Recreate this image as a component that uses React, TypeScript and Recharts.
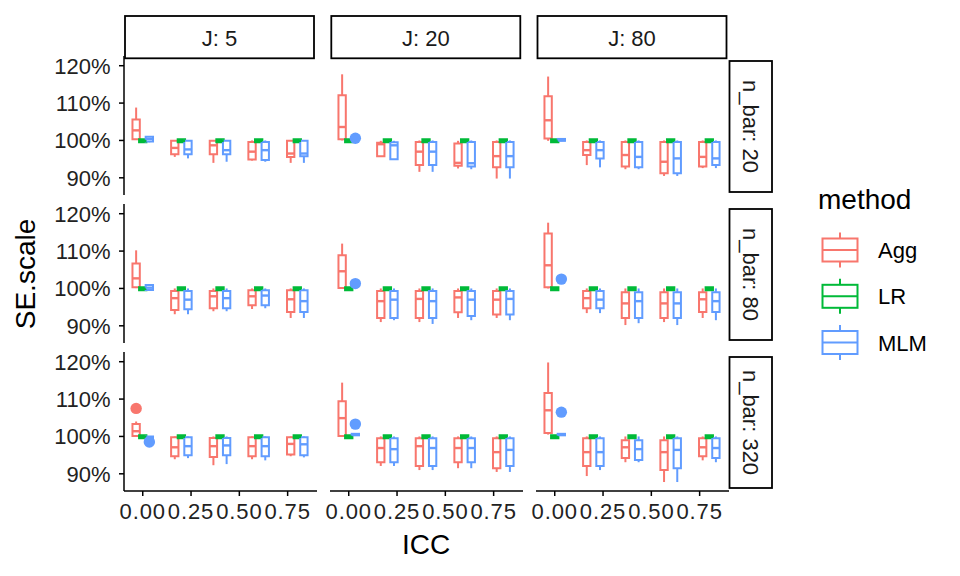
import React from 'react';
import { ComposedChart, XAxis, YAxis, ReferenceArea, ReferenceLine, Scatter } from 'recharts';

type Box = [number, number, number, number, number]; // lower whisker, q1, median, q3, upper whisker (%)

const J_LEVELS = ['5', '20', '80'];
const NBAR_LEVELS = ['20', '80', '320'];
const ICC_VALUES = [0, 0.2, 0.4, 0.6, 0.8];
const METHODS = ['Agg', 'LR', 'MLM'];
const METHOD_COLORS = ['#F8766D', '#00BA38', '#619CFF'];
const X_TICKS = [0, 0.25, 0.5, 0.75];
const Y_TICKS = [90, 100, 110, 120];

// LR is flat at 100% in every panel
const lr_all: Box[] = [
  [99.5, 99.5, 99.9, 100.3, 100.3],
  [99.5, 99.5, 99.9, 100.3, 100.3],
  [99.5, 99.5, 99.9, 100.3, 100.3],
  [99.5, 99.5, 99.9, 100.3, 100.3],
  [99.5, 99.5, 99.9, 100.3, 100.3],
];

// n_bar: 20
const agg_J5_n20: Box[] = [
  [100.2, 100.3, 102.7, 105.6, 108.8],
  [95.6, 96.3, 98.0, 99.9, 100.1],
  [94.0, 96.3, 98.7, 99.9, 100.1],
  [94.6, 94.9, 97.0, 99.6, 100.0],
  [94.0, 95.6, 96.5, 99.9, 100.1],
];
const mlm_J5_n20: Box[] = [
  [99.5, 99.7, 100.4, 101.0, 101.1],
  [95.2, 96.3, 97.6, 99.9, 100.1],
  [94.3, 96.3, 97.4, 99.9, 100.1],
  [94.3, 94.8, 97.4, 99.6, 100.0],
  [94.0, 95.8, 96.5, 99.9, 100.1],
];
const agg_J20_n20: Box[] = [
  [100.0, 100.3, 103.6, 112.1, 117.7],
  [95.8, 95.8, 99.0, 99.4, 99.9],
  [91.6, 93.4, 97.0, 99.6, 100.0],
  [92.5, 93.2, 94.0, 99.2, 99.9],
  [89.8, 92.8, 95.8, 99.6, 100.0],
];
const mlm_J20_n20: Box[] = [
  [100.3, 100.35, 100.45, 100.55, 100.6],
  [95.0, 95.0, 98.7, 99.5, 99.9],
  [91.6, 93.4, 97.0, 99.6, 100.0],
  [92.3, 93.0, 93.9, 99.6, 100.0],
  [89.8, 92.8, 95.8, 99.6, 100.0],
];
const agg_J80_n20: Box[] = [
  [99.9, 100.5, 105.4, 111.8, 117.1],
  [93.4, 96.1, 97.4, 99.6, 100.0],
  [92.3, 93.0, 96.1, 99.6, 100.0],
  [90.5, 91.2, 94.3, 99.6, 100.0],
  [92.6, 93.0, 95.6, 99.6, 100.0],
];
const mlm_J80_n20: Box[] = [
  [99.8, 99.9, 100.1, 100.4, 100.5],
  [92.8, 95.2, 97.4, 99.6, 100.0],
  [92.3, 92.8, 95.6, 99.6, 100.0],
  [90.5, 91.2, 95.2, 99.6, 100.0],
  [92.6, 93.4, 95.2, 99.6, 100.0],
];

// n_bar: 80
const agg_J5_n80: Box[] = [
  [100.1, 100.3, 102.7, 106.7, 110.2],
  [93.1, 94.2, 97.4, 99.3, 100.0],
  [93.9, 94.7, 97.9, 99.3, 100.0],
  [94.5, 95.5, 97.9, 99.5, 100.0],
  [92.1, 93.7, 97.1, 99.5, 100.0],
];
const mlm_J5_n80: Box[] = [
  [99.5, 99.6, 100.2, 100.9, 101.0],
  [93.1, 94.4, 97.0, 99.3, 100.0],
  [93.9, 94.7, 97.4, 99.3, 100.0],
  [94.7, 95.5, 98.1, 99.5, 100.0],
  [92.1, 93.7, 96.6, 99.5, 100.0],
];
const agg_J20_n80: Box[] = [
  [100.0, 100.1, 104.6, 108.9, 112.0],
  [91.0, 92.1, 96.6, 99.3, 100.0],
  [91.0, 92.1, 97.2, 99.3, 100.0],
  [92.1, 93.6, 97.6, 99.3, 100.0],
  [92.1, 93.0, 97.0, 99.3, 100.0],
];
const mlm_J20_n80: Box[] = [
  [100.7, 100.8, 101.0, 101.2, 101.3],
  [91.5, 92.1, 97.0, 99.3, 100.0],
  [90.5, 92.1, 96.6, 99.3, 100.0],
  [91.5, 92.6, 97.0, 99.3, 100.0],
  [91.5, 93.0, 97.2, 99.3, 100.0],
];
const agg_J80_n80: Box[] = [
  [100.0, 100.3, 106.2, 114.7, 117.6],
  [93.4, 94.7, 97.4, 99.3, 100.0],
  [90.2, 92.1, 96.0, 99.0, 100.0],
  [91.0, 92.1, 96.0, 99.0, 100.0],
  [92.1, 93.7, 97.1, 99.0, 100.0],
];
const mlm_J80_n80: Box[] = [
  [101.9, 102.0, 102.2, 102.4, 102.5],
  [93.4, 94.7, 97.0, 99.3, 100.0],
  [90.7, 92.1, 96.6, 99.0, 100.0],
  [90.2, 92.1, 96.0, 99.0, 100.0],
  [91.5, 93.7, 96.6, 99.0, 100.0],
];

// n_bar: 320
const agg_J5_n320: Box[] = [
  [100.0, 100.1, 101.4, 103.3, 104.0],
  [93.9, 94.7, 97.1, 99.8, 100.0],
  [92.3, 94.5, 97.4, 99.6, 100.0],
  [93.9, 94.7, 97.4, 99.8, 100.0],
  [94.7, 95.2, 98.0, 99.8, 100.0],
];
const mlm_J5_n320: Box[] = [
  [99.0, 99.1, 99.5, 100.0, 100.1],
  [94.2, 95.0, 97.4, 99.8, 100.0],
  [92.6, 95.0, 97.6, 99.6, 100.0],
  [93.6, 94.7, 97.4, 99.8, 100.0],
  [94.4, 95.0, 97.9, 99.8, 100.0],
];
const agg_J20_n320: Box[] = [
  [100.0, 100.1, 104.9, 109.4, 114.4],
  [92.1, 93.1, 96.9, 99.5, 100.0],
  [91.0, 92.1, 97.4, 99.5, 100.0],
  [91.5, 93.1, 96.9, 99.5, 100.0],
  [90.5, 91.5, 95.8, 99.5, 100.0],
];
const mlm_J20_n320: Box[] = [
  [100.2, 100.3, 100.5, 100.7, 100.8],
  [92.1, 93.1, 96.6, 99.5, 100.0],
  [91.0, 92.1, 96.9, 99.5, 100.0],
  [91.5, 93.1, 96.9, 99.5, 100.0],
  [90.5, 92.1, 96.4, 99.5, 100.0],
];
const agg_J80_n320: Box[] = [
  [100.5, 100.9, 107.0, 111.6, 119.8],
  [89.4, 92.1, 95.8, 99.5, 100.0],
  [93.1, 94.2, 97.1, 99.0, 100.0],
  [87.8, 91.0, 95.8, 99.0, 100.0],
  [93.6, 94.7, 97.1, 99.5, 100.0],
];
const mlm_J80_n320: Box[] = [
  [100.2, 100.3, 100.5, 100.7, 100.8],
  [91.0, 92.1, 95.8, 99.5, 100.0],
  [93.1, 93.7, 96.6, 99.0, 100.0],
  [87.8, 91.5, 96.4, 99.5, 100.0],
  [93.1, 94.2, 96.9, 99.5, 100.0],
];

const OUTLIERS = [
  { j: '20', n: '20', method: 'MLM', icc: 0, value: 100.6 },
  { j: '20', n: '80', method: 'MLM', icc: 0, value: 101.3 },
  { j: '80', n: '80', method: 'MLM', icc: 0, value: 102.5 },
  { j: '5', n: '320', method: 'Agg', icc: 0, value: 107.5 },
  { j: '5', n: '320', method: 'MLM', icc: 0, value: 98.5 },
  { j: '20', n: '320', method: 'MLM', icc: 0, value: 103.3 },
  { j: '80', n: '320', method: 'MLM', icc: 0, value: 106.5 },
];

// table of panels built from the arrays above: [row][col]
const PANELS: { agg: Box[]; lr: Box[]; mlm: Box[] }[][] = [
  [
    { agg: agg_J5_n20, lr: lr_all, mlm: mlm_J5_n20 },
    { agg: agg_J20_n20, lr: lr_all, mlm: mlm_J20_n20 },
    { agg: agg_J80_n20, lr: lr_all, mlm: mlm_J80_n20 },
  ],
  [
    { agg: agg_J5_n80, lr: lr_all, mlm: mlm_J5_n80 },
    { agg: agg_J20_n80, lr: lr_all, mlm: mlm_J20_n80 },
    { agg: agg_J80_n80, lr: lr_all, mlm: mlm_J80_n80 },
  ],
  [
    { agg: agg_J5_n320, lr: lr_all, mlm: mlm_J5_n320 },
    { agg: agg_J20_n320, lr: lr_all, mlm: mlm_J20_n320 },
    { agg: agg_J80_n320, lr: lr_all, mlm: mlm_J80_n320 },
  ],
];

// ---- layout / style ----
const FONT = '"Liberation Sans", Arial, Helvetica, sans-serif';
const PANEL_W = 193;
const PANEL_H = 139;
const COL_X = [123.5, 329.8, 536];
const ROW_Y = [55.5, 203.5, 351.5];
const Y_AXIS_W = 80;
const X_AXIS_H = 50;
const PAD_TOP = 14;
const PAD_SIDE = 14;
const X_DOMAIN: [number, number] = [-0.097, 0.902];
const Y_DOMAIN: [number, number] = [85.4, 122.6];
const DODGE = 0.0342;
const HALF_W = 0.019;
const BOX_SW = 2;
const MED_SW = 2.4;

function boxElements(boxes: Box[], mIdx: number, prefix: string) {
  const color = METHOD_COLORS[mIdx];
  const off = (mIdx - 1) * DODGE;
  const out: React.ReactElement[] = [];
  boxes.forEach((b, i) => {
    const cx = ICC_VALUES[i] + off;
    const [lo, q1, med, q3, hi] = b;
    const k = `${prefix}-${mIdx}-${i}`;
    out.push(
      <ReferenceLine
        key={`${k}-wu`}
        segment={[{ x: cx, y: q3 }, { x: cx, y: hi }]}
        stroke={color}
        strokeWidth={BOX_SW}
        ifOverflow="visible"
      />
    );
    out.push(
      <ReferenceLine
        key={`${k}-wl`}
        segment={[{ x: cx, y: lo }, { x: cx, y: q1 }]}
        stroke={color}
        strokeWidth={BOX_SW}
        ifOverflow="visible"
      />
    );
    out.push(
      <ReferenceArea
        key={`${k}-box`}
        x1={cx - HALF_W}
        x2={cx + HALF_W}
        y1={q1}
        y2={q3}
        fill="#ffffff"
        fillOpacity={1}
        stroke={color}
        strokeWidth={BOX_SW}
        ifOverflow="visible"
      />
    );
    out.push(
      <ReferenceLine
        key={`${k}-med`}
        segment={[{ x: cx - HALF_W, y: med }, { x: cx + HALF_W, y: med }]}
        stroke={color}
        strokeWidth={MED_SW}
        ifOverflow="visible"
      />
    );
  });
  return out;
}

function Panel({ row, col }: { row: number; col: number }) {
  const showY = col === 0;
  const showX = row === 2;
  const yw = showY ? Y_AXIS_W : 0;
  const padL = showY ? 0 : PAD_SIDE;
  const xh = showX ? X_AXIS_H : 0;
  const p = PANELS[row][col];
  const j = J_LEVELS[col];
  const n = NBAR_LEVELS[row];
  const tickStyle = { fontSize: 22, fill: '#222222', fontFamily: FONT };
  const xTickStyle = { ...tickStyle, letterSpacing: 0.9 };
  return (
    <div style={{ position: 'absolute', left: COL_X[col] - yw - padL, top: ROW_Y[row] - PAD_TOP }}>
      <ComposedChart
        width={PANEL_W + yw + padL + PAD_SIDE}
        height={PANEL_H + xh + PAD_TOP}
        margin={{ top: PAD_TOP, right: PAD_SIDE, bottom: 0, left: padL }}
        style={{ overflow: 'visible' }}
      >
        <XAxis
          type="number"
          dataKey="x"
          domain={X_DOMAIN}
          allowDataOverflow
          ticks={X_TICKS}
          interval={0}
          hide={!showX}
          height={xh}
          tickFormatter={(v: number) => v.toFixed(2)}
          axisLine={{ stroke: '#000000', strokeWidth: 1.5 }}
          tickLine={{ stroke: '#000000', strokeWidth: 1.5 }}
          tickSize={5}
          tickMargin={7.5}
          tick={xTickStyle}
        />
        <YAxis
          type="number"
          dataKey="y"
          domain={Y_DOMAIN}
          allowDataOverflow
          ticks={Y_TICKS}
          interval={0}
          hide={!showY}
          width={yw}
          tickFormatter={(v: number) => `${v}%`}
          axisLine={{ stroke: '#000000', strokeWidth: 1.5 }}
          tickLine={{ stroke: '#000000', strokeWidth: 1.5 }}
          tickSize={5}
          tickMargin={8.5}
          tick={tickStyle}
        />
        {boxElements(p.agg, 0, `r${row}c${col}`)}
        {boxElements(p.lr, 1, `r${row}c${col}`)}
        {boxElements(p.mlm, 2, `r${row}c${col}`)}
        {METHODS.map((m, mIdx) => {
          const pts = OUTLIERS.filter((o) => o.j === j && o.n === n && o.method === m).map((o) => ({
            x: o.icc + (mIdx - 1) * DODGE,
            y: o.value,
          }));
          return (
            <Scatter
              key={`out-${m}`}
              data={pts}
              fill={METHOD_COLORS[mIdx]}
              isAnimationActive={false}
              shape={(props: any) => (
                <circle cx={props.cx} cy={props.cy} r={5.7} fill={METHOD_COLORS[mIdx]} />
              )}
            />
          );
        })}
      </ComposedChart>
    </div>
  );
}

function Overlay() {
  const legendCenters = [250, 296.3, 342.5];
  return (
    <svg
      width={960}
      height={576}
      style={{ position: 'absolute', left: 0, top: 0, pointerEvents: 'none', fontFamily: FONT }}
    >
      {/* top strips */}
      {J_LEVELS.map((j, c) => {
        const x1 = COL_X[c] + 1.5;
        const x2 = COL_X[c] + PANEL_W - 2.5;
        return (
          <g key={`ts-${j}`}>
            <rect x={x1} y={16} width={x2 - x1} height={42.3} fill="#ffffff" stroke="#000000" strokeWidth={1.8} />
            <text x={(x1 + x2) / 2} y={45.5} textAnchor="middle" fontSize={22} fill="#1a1a1a">
              {`J: ${j}`}
            </text>
          </g>
        );
      })}
      {/* right strips */}
      {NBAR_LEVELS.map((n, r) => {
        const y1 = ROW_Y[r] + 5.5;
        const y2 = ROW_Y[r] + PANEL_H - 2.5;
        return (
          <g key={`rs-${n}`}>
            <rect x={729.5} y={y1} width={42.5} height={y2 - y1} fill="#ffffff" stroke="#000000" strokeWidth={1.8} />
            <text
              transform={`translate(742.5, ${(y1 + y2) / 2}) rotate(90)`}
              textAnchor="middle"
              fontSize={22}
              fill="#1a1a1a"
            >
              {`n_bar: ${n}`}
            </text>
          </g>
        );
      })}
      {/* axis titles */}
      <text x={426} y={554} textAnchor="middle" fontSize={28} fill="#000000">
        ICC
      </text>
      <text transform="translate(35, 274) rotate(-90)" textAnchor="middle" fontSize={28} fill="#000000">
        SE.scale
      </text>
      {/* legend */}
      <text x={818} y={209} fontSize={28} fill="#000000">
        method
      </text>
      {METHODS.map((m, i) => {
        const cy = legendCenters[i];
        const color = METHOD_COLORS[i];
        return (
          <g key={`lg-${m}`}>
            <line x1={840} x2={840} y1={cy - 17.5} y2={cy + 17.5} stroke={color} strokeWidth={2} />
            <rect x={822.5} y={cy - 11.5} width={35} height={23} fill="#ffffff" stroke={color} strokeWidth={2} />
            <line x1={822.5} x2={857.5} y1={cy} y2={cy} stroke={color} strokeWidth={2} />
            <text x={878} y={cy + 8} fontSize={22} fill="#000000">
              {m}
            </text>
          </g>
        );
      })}
    </svg>
  );
}

export default function App() {
  const cells: React.ReactElement[] = [];
  for (let r = 0; r < 3; r++) {
    for (let c = 0; c < 3; c++) {
      cells.push(<Panel key={`p-${r}-${c}`} row={r} col={c} />);
    }
  }
  return (
    <div
      style={{
        position: 'absolute',
        left: 0,
        top: 0,
        width: 960,
        height: 576,
        background: '#ffffff',
        fontFamily: FONT,
        overflow: 'hidden',
      }}
    >
      {cells}
      <Overlay />
    </div>
  );
}
